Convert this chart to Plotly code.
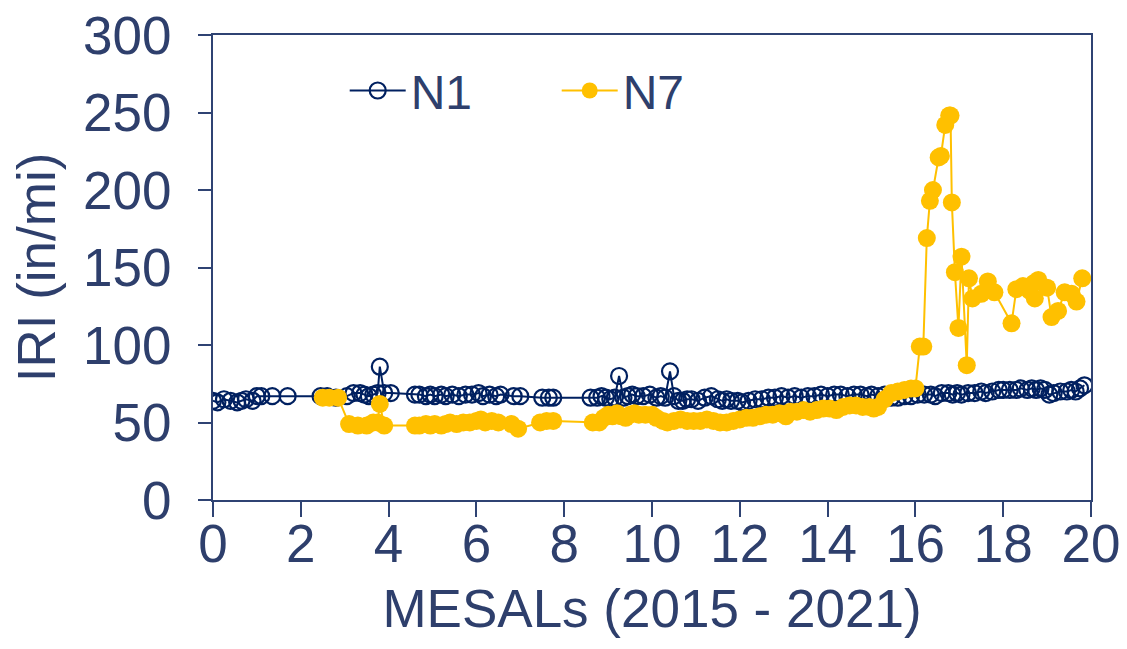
import plotly.graph_objects as go

# ---- data ----
n1_x = [0.0, 0.1, 0.25, 0.4, 0.55, 0.65, 0.75, 0.9, 1.0, 1.1, 1.35, 1.7,
        2.45, 2.6, 2.8, 3.05, 3.2, 3.35, 3.45, 3.55, 3.65, 3.75, 3.8, 3.9, 4.05,
        4.6, 4.7, 4.85, 4.95, 5.05, 5.2, 5.3, 5.45, 5.6, 5.75, 5.9, 6.05, 6.15, 6.3, 6.45, 6.55, 6.85, 7.0,
        7.5, 7.65, 7.75,
        8.6, 8.75, 8.85, 8.95, 9.05, 9.15, 9.25, 9.35, 9.45, 9.55, 9.65, 9.8, 9.95, 10.1, 10.2, 10.3, 10.41,
        10.5, 10.6, 10.7, 10.8, 10.9, 11.05, 11.2, 11.35, 11.5, 11.6, 11.7, 11.8, 11.95, 12.05, 12.2, 12.35,
        12.5, 12.65, 12.8, 12.95, 13.1, 13.25, 13.4, 13.55, 13.7, 13.85, 14.0, 14.15, 14.3, 14.45, 14.6,
        14.75, 14.9, 15.0, 15.15, 15.3, 15.45, 15.6, 15.75, 15.9, 16.05, 16.2, 16.35, 16.45, 16.6, 16.75,
        16.85, 16.95, 17.05, 17.2, 17.35, 17.5, 17.6, 17.75, 17.9, 18.0, 18.15, 18.3, 18.4, 18.55, 18.65,
        18.75, 18.85, 18.95, 19.05, 19.15, 19.3, 19.45, 19.55, 19.65, 19.75, 19.85]
n1_y = [64, 63, 65, 64, 63, 64, 65, 64, 67, 67, 67, 67,
        67, 67, 66, 67, 69, 69, 68, 67, 68, 69, 86, 69, 69,
        68, 68, 67, 68, 67, 68, 67, 68, 67, 68, 68, 69, 67, 68, 67, 68, 67, 67,
        66, 66, 66,
        66, 66, 67, 66, 65, 66, 80, 66, 67, 68, 67, 67, 68, 66, 67, 66, 83,
        67, 64, 64, 65, 65, 64, 66, 67, 65, 64, 65, 64, 64, 63, 64, 65,
        65, 66, 66, 67, 66, 67, 66, 67, 67, 68, 67, 68, 68, 67, 68,
        68, 67, 68, 67, 68, 66, 66, 67, 67, 68, 68, 68, 67, 69, 69,
        68, 69, 68, 69, 69, 70, 69, 70, 71, 71, 71, 71, 72, 71, 72,
        71, 72, 71, 68, 69, 70, 70, 71, 70, 72, 74]

n7_x = [2.5, 2.65, 2.85, 3.1, 3.3, 3.5, 3.65, 3.75, 3.8, 3.9,
        4.6, 4.7, 4.85, 4.95, 5.05, 5.2, 5.3, 5.4, 5.55, 5.7, 5.85, 6.0, 6.1, 6.2, 6.35, 6.5, 6.8, 6.95,
        7.45, 7.6, 7.75,
        8.65, 8.8, 8.9, 9.0, 9.1, 9.2, 9.3, 9.4, 9.5, 9.6, 9.7, 9.85, 10.0, 10.1, 10.25, 10.35, 10.5,
        10.65, 10.8, 10.95, 11.1, 11.25, 11.4, 11.55, 11.7, 11.85, 12.0, 12.15, 12.3, 12.45, 12.6, 12.75,
        12.9, 13.05, 13.15, 13.3, 13.45, 13.6, 13.75, 13.9, 14.05, 14.2, 14.35, 14.5, 14.65, 14.8, 14.95,
        15.05, 15.15, 15.3, 15.45, 15.6, 15.75, 15.9, 16.0,
        16.1, 16.18, 16.26, 16.33, 16.4, 16.53, 16.58, 16.68, 16.77, 16.8, 16.83, 16.9, 16.98, 17.05,
        17.17, 17.22, 17.3, 17.5, 17.65, 17.8, 18.19, 18.3, 18.45, 18.6, 18.7, 18.8, 18.72, 19.0, 19.1,
        19.25, 19.4, 19.56, 19.67, 19.8]
n7_y = [66, 66, 66, 49, 48, 48, 50, 50, 62, 48,
        48, 48, 49, 48, 49, 48, 49, 50, 49, 50, 50, 51, 52, 50, 51, 50, 49, 46,
        50, 51, 51,
        50, 50, 53, 55, 54, 56, 54, 53, 55, 56, 55, 55, 55, 53, 51, 50, 51,
        52, 51, 51, 51, 52, 51, 50, 50, 51, 52, 53, 53, 54, 55, 55,
        56, 54, 57, 57, 58, 57, 58, 59, 59, 58, 60, 61, 61, 60, 60,
        59, 60, 65, 69, 70, 71, 72, 72,
        99, 99, 169, 193, 200, 221, 222, 242, 248, 248, 192, 147, 111, 157,
        87, 143, 130, 133, 141, 134, 114, 136, 138, 135, 140, 142, 130, 137, 118,
        122, 134, 133, 128, 143]

x_ticks = [0, 2, 4, 6, 8, 10, 12, 14, 16, 18, 20]
y_ticks = [0, 50, 100, 150, 200, 250, 300]

AX = "#2F4373"
TXT = "#2E3F6C"
FONT = "Arial, Liberation Sans, sans-serif"

fig = go.Figure()
fig.add_trace(go.Scatter(
    x=n1_x, y=n1_y, mode="lines+markers", name="N1",
    line=dict(color="#002060", width=2),
    marker=dict(symbol="circle-open", size=16, color="#002060", line=dict(width=2.2)),
))
fig.add_trace(go.Scatter(
    x=n7_x, y=n7_y, mode="lines+markers", name="N7",
    line=dict(color="#FFC000", width=2),
    marker=dict(symbol="circle", size=18, color="#FFC000"),
))

fig.update_layout(
    width=1127, height=649,
    margin=dict(l=213, r=36, t=35, b=149),
    paper_bgcolor="white", plot_bgcolor="white",
    font=dict(family=FONT, color=TXT, size=53),
    showlegend=True,
    legend=dict(
        orientation="h", x=0.150, y=0.88, xanchor="left", yanchor="middle",
        font=dict(size=48, color=TXT), bgcolor="rgba(0,0,0,0)",
        entrywidth=141, entrywidthmode="pixels", itemsizing="trace", itemwidth=56,
    ),
    xaxis=dict(
        range=[0, 20], tickvals=x_ticks, ticktext=[str(v) for v in x_ticks],
        showgrid=False, zeroline=False, automargin=False,
        showline=True, linecolor=AX, linewidth=2, mirror=True,
        ticks="outside", ticklen=15, tickwidth=2, tickcolor=AX,
        tickfont=dict(size=53, color=TXT), ticklabelstandoff=-19,
        title=dict(text="MESALs (2015 - 2021)", font=dict(size=53, color=TXT), standoff=18),
    ),
    yaxis=dict(
        range=[0, 300], tickvals=y_ticks, ticktext=[str(v) for v in y_ticks],
        showgrid=False, zeroline=False, automargin=False,
        showline=True, linecolor=AX, linewidth=2, mirror=True,
        ticks="outside", ticklen=13, tickwidth=2, tickcolor=AX,
        tickfont=dict(size=53, color=TXT), ticklabelstandoff=16,
        title=dict(text="IRI (in/mi)", font=dict(size=53, color=TXT), standoff=10),
    ),
)

fig.write_html("out.html")
